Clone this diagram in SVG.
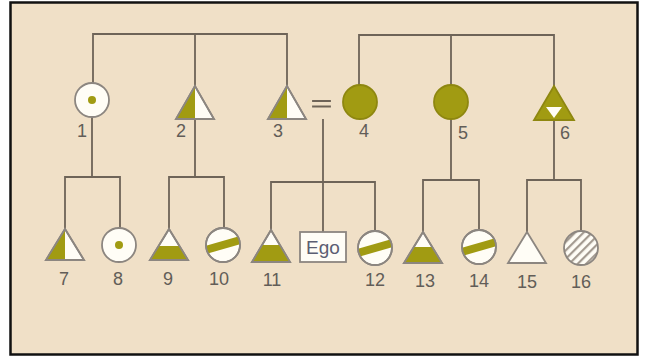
<svg xmlns="http://www.w3.org/2000/svg" width="645" height="359" viewBox="0 0 645 359">
<defs>
<style>
.ln{stroke:#6e6458;stroke-width:1.8;fill:none;stroke-linecap:square}
.sh{stroke:#8c8680;stroke-width:1.8;fill:#fffdf6}
.ol{fill:#a19b12}
.fc{fill:#a19b12;stroke:#8e8710;stroke-width:1.8}
.lb{font-family:"Liberation Sans",Arial,sans-serif;font-size:18px;fill:#625d58;text-anchor:middle}
.ego{font-family:"Liberation Sans",Arial,sans-serif;font-size:19px;fill:#5c5e72;text-anchor:middle}
</style>
<clipPath id="c10"><circle cx="223" cy="245" r="17"/></clipPath>
<clipPath id="c12"><circle cx="375" cy="248" r="17"/></clipPath>
<clipPath id="c14"><circle cx="479" cy="247" r="17"/></clipPath>
<pattern id="hatch" patternUnits="userSpaceOnUse" width="6" height="6" patternTransform="rotate(45)">
<rect width="6" height="6" fill="#fffdf6"/>
<line x1="1" y1="0" x2="1" y2="6" stroke="#a39a90" stroke-width="2.4"/>
</pattern>
</defs>
<rect x="0" y="0" width="645" height="359" fill="#ffffff"/>
<rect x="10.5" y="2.5" width="627" height="352" fill="#f0e0c7" stroke="#111" stroke-width="2.5"/>

<g id="connectors">
<path class="ln" d="M93,83 V34 H287 V86 M195,34 V86"/>
<path class="ln" d="M359,85 V35 H554 V86 M451,35 V85"/>
<path class="ln" d="M92,117 V177 M65,229 V177 H120 V228"/>
<path class="ln" d="M195,119 V177 M169,229 V177 H224 V228"/>
<path class="ln" d="M323,120 V182 M271,230 V182 H375 V231 M323,182 V232"/>
<path class="ln" d="M451,119 V180 M423,232 V180 H479 V230"/>
<path class="ln" d="M554,119 V180 M527,232 V180 H581 V231"/>
<path class="ln" d="M313,101 H330 M313,106.5 H330" stroke-width="2"/>
</g>

<g id="n1">
<circle class="sh" cx="92" cy="100" r="17"/>
<circle class="ol" cx="92" cy="100" r="4"/>
<text class="lb" x="82" y="137">1</text>
</g>
<g id="n2">
<polygon class="sh" points="195,86 176,119 214,119"/>
<polygon class="ol" points="195,87 177,118 195,118"/>
<polygon points="195,86 176,119 214,119" fill="none" stroke="#8c8680" stroke-width="1.8"/>
<text class="lb" x="181" y="137">2</text>
</g>
<g id="n3">
<polygon class="sh" points="287,86 268,119 306,119"/>
<polygon class="ol" points="287,87 269,118 287,118"/>
<polygon points="287,86 268,119 306,119" fill="none" stroke="#8c8680" stroke-width="1.8"/>
<text class="lb" x="278" y="137">3</text>
</g>
<g id="n4">
<circle class="fc" cx="360" cy="102" r="17"/>
<text class="lb" x="364" y="137">4</text>
</g>
<g id="n5">
<circle class="fc" cx="451" cy="102" r="17"/>
<text class="lb" x="463" y="139">5</text>
</g>
<g id="n6">
<polygon points="554,86 534,120 574,120" fill="#a19b12" stroke="#8e8710" stroke-width="1.8"/>
<polygon points="546,107 562,107 554,118" fill="#fffdf6"/>
<text class="lb" x="565" y="139">6</text>
</g>

<g id="n7">
<polygon class="sh" points="65,229 46,260 84,260"/>
<polygon class="ol" points="65,230 47,259 65,259"/>
<polygon points="65,229 46,260 84,260" fill="none" stroke="#8c8680" stroke-width="1.8"/>
<text class="lb" x="64" y="285">7</text>
</g>
<g id="n8">
<circle class="sh" cx="119" cy="245" r="17"/>
<circle class="ol" cx="119" cy="245" r="4"/>
<text class="lb" x="118" y="285">8</text>
</g>
<g id="n9">
<polygon class="sh" points="169,229 150,260 188,260"/>
<polygon class="ol" points="158.6,246 179.4,246 187,259 151,259"/>
<polygon points="169,229 150,260 188,260" fill="none" stroke="#8c8680" stroke-width="1.8"/>
<text class="lb" x="168" y="285">9</text>
</g>
<g id="n10">
<circle class="sh" cx="223" cy="245" r="17"/>
<rect class="ol" x="200" y="241" width="46" height="8" transform="rotate(-16 223 245)" clip-path="url(#c10)"/>
<circle cx="223" cy="245" r="17" fill="none" stroke="#8c8680" stroke-width="1.8"/>
<text class="lb" x="219" y="285">10</text>
</g>
<g id="n11">
<polygon class="sh" points="271,230 252,262 290,262"/>
<polygon class="ol" points="262,245 280,245 289,261 253,261"/>
<polygon points="271,230 252,262 290,262" fill="none" stroke="#8c8680" stroke-width="1.8"/>
<text class="lb" x="272" y="286">11</text>
</g>
<g id="ego">
<rect x="300" y="232" width="46" height="30" fill="#fffdf6" stroke="#8c8680" stroke-width="1.8"/>
<text class="ego" x="323" y="254">Ego</text>
</g>
<g id="n12">
<circle class="sh" cx="375" cy="248" r="17"/>
<rect class="ol" x="352" y="244" width="46" height="8" transform="rotate(-16 375 248)" clip-path="url(#c12)"/>
<circle cx="375" cy="248" r="17" fill="none" stroke="#8c8680" stroke-width="1.8"/>
<text class="lb" x="375" y="286">12</text>
</g>
<g id="n13">
<polygon class="sh" points="423,232 404,263 442,263"/>
<polygon class="ol" points="414,247 432,247 441,262 405,262"/>
<polygon points="423,232 404,263 442,263" fill="none" stroke="#8c8680" stroke-width="1.8"/>
<text class="lb" x="425" y="287">13</text>
</g>
<g id="n14">
<circle class="sh" cx="479" cy="247" r="17"/>
<rect class="ol" x="456" y="243" width="46" height="8" transform="rotate(-16 479 247)" clip-path="url(#c14)"/>
<circle cx="479" cy="247" r="17" fill="none" stroke="#8c8680" stroke-width="1.8"/>
<text class="lb" x="479" y="287">14</text>
</g>
<g id="n15">
<polygon class="sh" points="527,232 508,263 546,263"/>
<text class="lb" x="527" y="288">15</text>
</g>
<g id="n16">
<circle cx="581" cy="248" r="17" fill="url(#hatch)" stroke="#8c8680" stroke-width="1.8"/>
<text class="lb" x="581" y="288">16</text>
</g>
</svg>
